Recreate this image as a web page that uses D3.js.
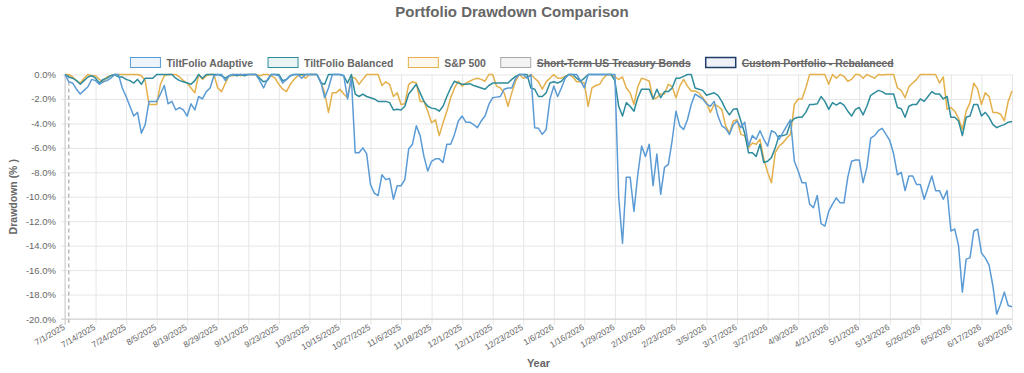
<!DOCTYPE html>
<html>
<head>
<meta charset="utf-8">
<script src="https://cdn.jsdelivr.net/npm/d3@7"></script>
<style>
  body { margin: 0; background: #fff; }
  svg { display: block; font-family: "Liberation Sans", Arial, Helvetica, sans-serif; }
</style>
</head>
<body>
<script>
// trading calendar (categories)
var startDay = "2025-07-01";
var endDay = "2026-06-30";
var holidays = ["2025-07-04", "2025-09-01", "2025-11-27", "2025-12-25", "2026-01-01",
                "2026-01-19", "2026-02-16", "2026-04-03", "2026-05-25", "2026-06-19"];
var missingDays = ["2025-08-11", "2025-08-12"];

var seriesNames = ["TiltFolio Adaptive", "TiltFolio Balanced", "S&P 500",
                   "Short-Term US Treasury Bonds", "Custom Portfolio - Rebalanced"];
var hiddenSeries = ["Short-Term US Treasury Bonds", "Custom Portfolio - Rebalanced"];

// drawdown in %
var adaptive = [
  0, -0.6, -0.7, -1.2, -1.6, -1.3, -1.0, -0.4, -0.5, -0.8,
  -0.6, -0.5, -0.3, 0, 0, -1.1, -1.8, -2.6, -3.4, -3.1,
  -4.8, -4.1, -2.2, -2.2, -2.2, -1.6, -0.9, -2.4, -2.2, -2.9,
  -2.7, -2.9, -3.4, -2.4, -2.9, -1.8, -2.0, -1.4, -1.1, -0.1,
  0, 0, -0.5, -0.1, 0, 0, 0, 0, 0, 0,
  0, -0.5, -1.1, -0.4, 0, 0, -0.1, -0.7, -0.4, -0.1,
  0, 0, -0.3, 0, 0, 0, 0, -0.6, -1.9, -1.1,
  0, 0, 0, -0.1, -2.0, -0.3, -6.4, -6.4, -6.0, -6.5,
  -9.0, -9.7, -9.9, -8.2, -8.6, -8.5, -10.2, -9.1, -9.1, -8.6,
  -6.1, -5.7, -4.2, -5.0, -6.7, -7.9, -7.1, -6.9, -6.9, -7.2,
  -5.7, -5.7, -4.9, -3.8, -3.4, -3.9, -3.9, -4.1, -4.35, -3.8,
  -3.4, -2.45, -1.9, -1.85, -1.8, -1.2, -1.1, -1.1, -0.3, 0,
  0, -0.3, 0, -4.35, -4.4, -4.9, -4.5, -2.0, -0.95, -1.8,
  -1.1, -0.3, 0, 0, 0, -0.5, -1.1, 0, 0, 0,
  0, 0, 0, 0, 0, -10.0, -13.8, -8.4, -8.4, -11.2,
  -8.2, -5.85, -6.7, -5.7, -9.1, -6.5, -9.8, -7.6, -7.35, -5.4,
  -3.0, -4.2, -4.5, -3.7, -2.45, -1.6, -1.8, -2.0, -2.4, -2.6,
  -2.2, -3.4, -4.2, -4.4, -4.9, -4.1, -3.8, -4.35, -3.9, -5.85,
  -5.0, -5.3, -4.6, -5.3, -5.85, -4.6, -4.75, -5.3, -4.75, -4.2,
  -3.7, -7.1, -7.9, -8.85, -8.85, -10.6, -10.9, -9.9, -12.2, -12.4,
  -11.2, -10.6, -10.1, -10.5, -10.5, -8.4, -7.1, -7.0, -7.0, -8.85,
  -7.6, -5.2, -5.0, -4.6, -4.4, -4.9, -5.4, -6.5, -8.2, -8.0,
  -9.5, -8.3, -8.3, -9.0, -9.0, -10.2, -9.25, -8.3, -9.5, -9.5,
  -10.2, -9.5, -12.8, -12.65, -14.0, -17.8, -15.1, -15.0, -12.8, -12.65,
  -14.6, -15.0, -15.6, -17.3, -19.6, -18.8, -17.8, -18.9, -19.0
];
var balanced = [
  0, -0.2, -0.3, -0.5, -0.8, -0.5, -0.2, -0.1, -0.3, -0.7,
  -0.4, -0.3, -0.1, 0, -0.2, -0.2, -0.4, -0.5, -0.7, -0.4,
  -0.8, -0.3, -0.3, -0.3, 0, 0, 0, 0, 0, -0.3,
  -0.5, -0.6, -0.7, -0.8, -0.5, 0, -0.3, 0, 0, 0,
  0, -0.1, -0.3, -0.1, 0, -0.1, 0, -0.1, 0, 0,
  0, -0.3, -0.6, -0.5, 0, 0, 0, -0.5, -0.4, -0.1,
  0, 0, 0, 0, 0, 0, 0, -0.7, -0.8, 0,
  0, 0, 0, -0.1, -0.7, 0, -1.6, -1.8, -1.6, -1.8,
  -1.9, -2.0, -2.2, -2.2, -2.2, -2.3, -2.9, -2.85, -2.9, -2.6,
  -1.6, -1.2, -0.8, -1.5, -2.2, -2.6, -2.75, -2.8, -3.0, -2.6,
  -1.8, -1.1, -0.55, -0.7, -0.8, -0.8, -0.75, -0.9, -1.0, -1.1,
  -1.2, -0.9, -0.7, -0.7, -0.7, -0.7, -0.7, -0.4, -0.15, 0,
  0, 0, -1.1, -1.2, -1.8, -1.8, -1.5, -0.7, -0.6, -0.7,
  -0.55, -0.2, 0, 0, -0.3, -0.55, -0.3, 0, 0, 0,
  0, 0, 0, 0, -0.5, -2.6, -3.4, -2.3, -2.6, -3.0,
  -1.9, -1.2, -1.2, -1.2, -2.0, -1.2, -1.9, -1.4, -1.4, -1.1,
  -0.3, -0.3, -0.15, 0, 0, -1.1, -1.2, -1.3, -1.7, -1.6,
  -1.5, -1.7, -2.2, -2.85, -3.3, -2.85, -2.8, -3.8, -4.8, -6.4,
  -6.4, -6.7, -5.7, -7.2, -7.1, -6.8, -6.0, -5.0, -5.0, -4.9,
  -3.95, -3.6, -3.5, -3.5, -3.1, -2.45, -2.45, -2.4, -1.8, -2.2,
  -2.85, -2.3, -2.5, -2.3, -2.5, -3.0, -3.4, -2.85, -2.7, -3.3,
  -2.6, -1.7, -1.5, -1.3, -1.4, -1.6, -1.6, -1.6, -2.7, -2.8,
  -3.5, -2.6, -2.45, -2.45, -2.0, -2.2, -1.8, -1.4, -1.6, -1.6,
  -2.0, -1.8, -3.5, -3.5, -3.8, -5.0, -3.5, -3.4, -2.45, -2.45,
  -3.4, -3.1, -3.5, -4.1, -4.35, -4.2, -4.1, -3.9, -3.85
];
var sp500 = [
  0, 0, -0.2, -0.5, -0.7, -0.3, 0, -0.1, -0.1, -0.4,
  -0.6, -0.2, -0.1, 0, 0, 0, 0, 0, 0, 0,
  -0.1, -0.5, -2.45, -2.45, -2.45, -0.8, -0.1, 0, 0, 0,
  -0.2, -0.5, -0.7, -1.1, -1.5, 0, -0.4, -0.1, 0, 0,
  -1.1, -1.4, -0.7, -0.1, -0.1, 0, -0.1, 0, 0, 0,
  0, -0.1, 0, 0, -0.1, -0.3, -0.8, -1.2, -1.4, -0.8,
  -0.4, -0.1, 0, -0.3, 0, 0, 0, -0.6, -1.5, -3.1,
  -1.5, -1.5, -1.2, -1.6, -1.9, -0.2, -0.3, -0.8, -0.4, 0,
  0, 0, 0, -0.9, -0.6, -0.8, -1.8, -1.5, -2.45, -2.4,
  -0.8, -0.6, -0.7, -2.2, -2.2, -3.0, -3.95, -3.7, -5.0, -3.95,
  -3.0, -1.9, -1.1, -0.55, -0.95, -0.7, -0.55, -0.4, -0.3, -0.4,
  -0.55, 0, 0, -0.95, -1.1, -1.5, -2.6, -1.5, -0.55, 0,
  -0.3, -0.2, 0, -0.3, -0.6, -1.2, -0.6, -0.3, 0, -0.3,
  -0.3, -0.15, 0, -0.2, -0.6, -0.6, -0.7, -2.6, -1.1, -0.9,
  -0.8, -0.3, 0, 0, -0.2, -0.4, -0.2, -1.1, -1.5, -2.45,
  -1.0, -0.3, -0.4, -0.55, -2.0, -1.9, -1.6, -1.6, -0.8, -1.0,
  -1.9, -0.95, -0.4, -0.95, -1.35, -1.35, -1.5, -1.9, -2.3, -3.1,
  -2.45, -2.6, -2.85, -4.2, -4.8, -3.8, -3.7, -4.9, -5.0, -6.0,
  -5.6, -5.7, -5.3, -6.9, -8.0, -8.85, -6.4, -5.85, -5.6, -5.2,
  -4.9, -2.45, -2.0, -2.0, -1.1, 0, 0, 0, 0, 0,
  -0.8, 0, -0.3, 0, -0.15, -0.55, -0.4, 0, 0, -0.3,
  0, -0.15, -0.3, 0, -0.05, 0, 0, 0, -1.1, -1.3,
  -1.9, -1.0, -0.7, -0.4, 0, 0, 0, 0, 0, -0.7,
  -0.2, -2.85, -2.7, -3.0, -3.6, -4.5, -3.0, -2.3, -0.7, -1.2,
  -2.45, -1.5, -1.8, -3.1, -3.1, -3.25, -3.8, -2.2, -1.35
];
var yTicks = [0, -2, -4, -6, -8, -10, -12, -14, -16, -18, -20];

var colors = {
  "TiltFolio Adaptive": "#5b9bd5",
  "TiltFolio Balanced": "#2f8c9c",
  "S&P 500": "#e3b04b",
  "Short-Term US Treasury Bonds": "#a8a8a8",
  "Custom Portfolio - Rebalanced": "#1f3d66"
};
var boxFills = {
  "TiltFolio Adaptive": "#eef4fb",
  "TiltFolio Balanced": "#eaf4f5",
  "S&P 500": "#fdf8ee",
  "Short-Term US Treasury Bonds": "#f3f3f3",
  "Custom Portfolio - Rebalanced": "#eef2f8"
};

var svgWidth = 1024;
var svgHeight = 373;
var plotLeft = 65, plotRight = 1012, plotTop = 74.5, plotBottom = 319;

// build trading days
var parseDay = d3.timeParse("%Y-%m-%d");
var fmtDay = d3.timeFormat("%Y-%m-%d");
var fmtLabel = d3.timeFormat("%-m/%-d/%Y");
var dates = d3.timeDay.range(parseDay(startDay), d3.timeDay.offset(parseDay(endDay), 1))
  .filter(function(d) {
    var wd = d.getDay();
    var k = fmtDay(d);
    return wd != 0 && wd != 6 && holidays.indexOf(k) < 0 && missingDays.indexOf(k) < 0;
  })
  .map(function(d) { return fmtLabel(d); });

var svg = d3.select("body").append("svg")
  .attr("width", svgWidth)
  .attr("height", svgHeight);

var xScale = d3.scalePoint()
  .domain(dates)
  .range([plotLeft, plotRight]);
var yScale = d3.scaleLinear()
  .domain([-20, 0])
  .range([plotBottom, plotTop]);

var tickDates = dates.filter(function(d, i) { return i % 8 == 0; });

// grid
svg.append("g")
  .attr("transform", "translate(0," + plotBottom + ")")
  .call(d3.axisBottom(xScale).tickValues(tickDates).tickSize(-(plotBottom - plotTop) ).tickFormat(""))
  .call(function(g) {
    g.select(".domain").remove();
    g.selectAll("line").attr("stroke", "#e6e6e6").attr("y1", 6);
  });
svg.append("g")
  .attr("transform", "translate(" + plotLeft + ",0)")
  .call(d3.axisLeft(yScale).tickValues(yTicks).tickSize(-(plotRight - plotLeft)).tickFormat(""))
  .call(function(g) {
    g.select(".domain").remove();
    g.selectAll("line").attr("stroke", "#e6e6e6").attr("x1", -4);
  });

// axis lines
svg.append("line")
  .attr("x1", plotLeft).attr("x2", plotLeft)
  .attr("y1", plotTop).attr("y2", plotBottom + 6)
  .attr("stroke", "#cfcfcf");
svg.append("line")
  .attr("x1", plotLeft - 4).attr("x2", plotRight)
  .attr("y1", plotBottom).attr("y2", plotBottom)
  .attr("stroke", "#cfcfcf");

// y tick labels
svg.append("g")
  .attr("transform", "translate(" + plotLeft + ",0)")
  .call(d3.axisLeft(yScale).tickValues(yTicks).tickSize(0).tickPadding(9)
    .tickFormat(function(d) { return d.toFixed(1) + "%"; }))
  .call(function(g) {
    g.select(".domain").remove();
    g.selectAll("text").attr("fill", "#666").attr("font-size", 9.5)
      .attr("font-family", "'Liberation Sans', Arial, sans-serif");
  });

// x tick labels
svg.append("g")
  .attr("transform", "translate(0," + plotBottom + ")")
  .call(d3.axisBottom(xScale).tickValues(tickDates).tickSize(0).tickPadding(0))
  .call(function(g) {
    g.select(".domain").remove();
    g.selectAll("text")
      .attr("fill", "#666")
      .attr("font-size", 8.5)
      .attr("font-family", "'Liberation Sans', Arial, sans-serif")
      .attr("text-anchor", "end")
      .attr("dy", 0)
      .attr("transform", "translate(0,10) rotate(-30)");
  });

// dashed marker near start
svg.append("line")
  .attr("x1", xScale(dates[1])).attr("x2", xScale(dates[1]))
  .attr("y1", plotTop).attr("y2", plotBottom + 4)
  .attr("stroke", "#999")
  .attr("stroke-dasharray", "4,3");

// lines, drawn so first dataset ends on top
var lineGen = d3.line()
  .x(function(d, i) { return xScale(dates[i]); })
  .y(function(d) { return yScale(d); });

var visible = [
  { name: "S&P 500", values: sp500 },
  { name: "TiltFolio Balanced", values: balanced },
  { name: "TiltFolio Adaptive", values: adaptive }
];
visible.forEach(function(s) {
  svg.append("path")
    .datum(s.values)
    .attr("fill", "none")
    .attr("stroke", colors[s.name])
    .attr("stroke-width", 1.5)
    .attr("stroke-linejoin", "round")
    .attr("d", lineGen);
});

// title
svg.append("text")
  .attr("x", svgWidth / 2)
  .attr("y", 17)
  .attr("text-anchor", "middle")
  .attr("font-size", 15)
  .attr("font-weight", "bold")
  .attr("fill", "#666")
  .text("Portfolio Drawdown Comparison");

// axis titles
svg.append("text")
  .attr("transform", "translate(17," + ((plotTop + plotBottom) / 2) + ") rotate(-90)")
  .attr("text-anchor", "middle")
  .attr("font-size", 10.5)
  .attr("font-weight", "bold")
  .attr("fill", "#666")
  .text("Drawdown (% )");
svg.append("text")
  .attr("x", (plotLeft + plotRight) / 2)
  .attr("y", 367)
  .attr("text-anchor", "middle")
  .attr("font-size", 11)
  .attr("font-weight", "bold")
  .attr("fill", "#666")
  .text("Year");

// legend
var legend = svg.append("g");
var boxW = 30, boxH = 10, gapText = 6, gapItem = 15;
var items = seriesNames.map(function(name) {
  var g = legend.append("g");
  g.append("rect")
    .attr("width", boxW).attr("height", boxH)
    .attr("y", 57.5)
    .attr("fill", boxFills[name])
    .attr("stroke", colors[name])
    .attr("stroke-width", name == "Custom Portfolio - Rebalanced" ? 1.5 : 1);
  var t = g.append("text")
    .attr("x", boxW + gapText)
    .attr("y", 66.5)
    .attr("font-size", 10.4)
    .attr("font-weight", "bold")
    .attr("fill", "#666")
    .text(name);
  if (hiddenSeries.indexOf(name) >= 0) t.attr("text-decoration", "line-through");
  return { g: g, w: boxW + gapText + t.node().getComputedTextLength() };
});
var totalW = d3.sum(items, function(d) { return d.w; }) + gapItem * (items.length - 1);
var cx = svgWidth / 2 - totalW / 2;
items.forEach(function(it) {
  it.g.attr("transform", "translate(" + cx + ",0)");
  cx += it.w + gapItem;
});
</script>
</body>
</html>
